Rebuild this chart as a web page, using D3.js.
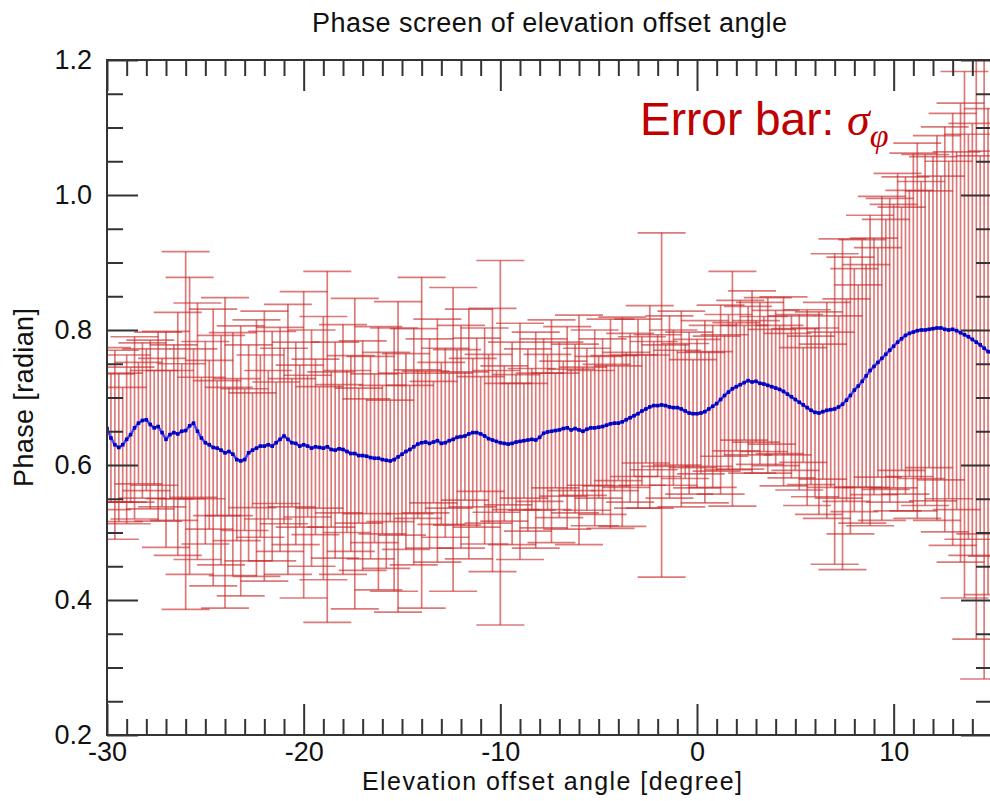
<!DOCTYPE html>
<html><head><meta charset="utf-8">
<script src="https://cdn.jsdelivr.net/npm/d3@7/dist/d3.min.js"></script>
<style>body{margin:0;background:#fff}svg{display:block}</style>
</head><body>
<svg id="chart" width="990" height="801"></svg>
<script>
// Elevation offset angle [degree]
const angles = [
-30.0,-29.8,-29.6,-29.4,-29.2,-29.0,-28.8,-28.6,-28.4,-28.2,
-28.0,-27.8,-27.6,-27.4,-27.2,-27.0,-26.8,-26.6,-26.4,-26.2,
-26.0,-25.8,-25.6,-25.4,-25.2,-25.0,-24.8,-24.6,-24.4,-24.2,
-24.0,-23.8,-23.6,-23.4,-23.2,-23.0,-22.8,-22.6,-22.4,-22.2,
-22.0,-21.8,-21.6,-21.4,-21.2,-21.0,-20.8,-20.6,-20.4,-20.2,
-20.0,-19.8,-19.6,-19.4,-19.2,-19.0,-18.8,-18.6,-18.4,-18.2,
-18.0,-17.8,-17.6,-17.4,-17.2,-17.0,-16.8,-16.6,-16.4,-16.2,
-16.0,-15.8,-15.6,-15.4,-15.2,-15.0,-14.8,-14.6,-14.4,-14.2,
-14.0,-13.8,-13.6,-13.4,-13.2,-13.0,-12.8,-12.6,-12.4,-12.2,
-12.0,-11.8,-11.6,-11.4,-11.2,-11.0,-10.8,-10.6,-10.4,-10.2,
-10.0,-9.8,-9.6,-9.4,-9.2,-9.0,-8.8,-8.6,-8.4,-8.2,
-8.0,-7.8,-7.6,-7.4,-7.2,-7.0,-6.8,-6.6,-6.4,-6.2,
-6.0,-5.8,-5.6,-5.4,-5.2,-5.0,-4.8,-4.6,-4.4,-4.2,
-4.0,-3.8,-3.6,-3.4,-3.2,-3.0,-2.8,-2.6,-2.4,-2.2,
-2.0,-1.8,-1.6,-1.4,-1.2,-1.0,-0.8,-0.6,-0.4,-0.2,
0.0,0.2,0.4,0.6,0.8,1.0,1.2,1.4,1.6,1.8,
2.0,2.2,2.4,2.6,2.8,3.0,3.2,3.4,3.6,3.8,
4.0,4.2,4.4,4.6,4.8,5.0,5.2,5.4,5.6,5.8,
6.0,6.2,6.4,6.6,6.8,7.0,7.2,7.4,7.6,7.8,
8.0,8.2,8.4,8.6,8.8,9.0,9.2,9.4,9.6,9.8,
10.0,10.2,10.4,10.6,10.8,11.0,11.2,11.4,11.6,11.8,
12.0,12.2,12.4,12.6,12.8,13.0,13.2,13.4,13.6,13.8,
14.0,14.2,14.4,14.6,14.8,15.0
];
// Mean phase [radian]
const phase = [
0.654,0.640,0.630,0.626,0.630,0.638,0.645,0.655,0.662,0.666,
0.667,0.660,0.655,0.657,0.648,0.638,0.645,0.648,0.646,0.650,
0.651,0.658,0.662,0.650,0.640,0.633,0.630,0.626,0.625,0.622,
0.618,0.620,0.616,0.608,0.606,0.608,0.618,0.622,0.625,0.628,
0.628,0.630,0.628,0.633,0.638,0.643,0.638,0.633,0.632,0.628,
0.630,0.628,0.625,0.627,0.626,0.625,0.627,0.623,0.622,0.624,
0.623,0.620,0.617,0.617,0.614,0.614,0.613,0.611,0.610,0.610,
0.608,0.607,0.606,0.608,0.612,0.616,0.620,0.623,0.627,0.631,
0.633,0.634,0.632,0.634,0.636,0.632,0.633,0.636,0.638,0.641,
0.642,0.643,0.646,0.648,0.648,0.646,0.643,0.639,0.637,0.635,
0.633,0.632,0.631,0.632,0.634,0.635,0.636,0.637,0.638,0.637,
0.641,0.647,0.649,0.650,0.651,0.652,0.654,0.655,0.652,0.654,
0.652,0.650,0.653,0.655,0.655,0.656,0.657,0.659,0.661,0.662,
0.662,0.664,0.667,0.670,0.673,0.676,0.680,0.683,0.686,0.688,
0.688,0.689,0.688,0.686,0.685,0.685,0.683,0.680,0.677,0.676,
0.676,0.677,0.679,0.683,0.687,0.691,0.697,0.703,0.708,0.713,
0.716,0.719,0.722,0.725,0.723,0.724,0.721,0.720,0.718,0.716,
0.714,0.712,0.709,0.705,0.701,0.697,0.693,0.689,0.685,0.681,
0.678,0.677,0.679,0.681,0.682,0.683,0.686,0.690,0.696,0.703,
0.711,0.717,0.724,0.732,0.740,0.746,0.752,0.758,0.764,0.770,
0.776,0.782,0.787,0.792,0.795,0.797,0.799,0.800,0.800,0.801,
0.802,0.803,0.803,0.801,0.800,0.801,0.799,0.796,0.793,0.790,
0.786,0.782,0.778,0.773,0.768,0.765
];
// Error bar sigma_phi [radian]
const sigma = [
0.120,0.095,0.140,0.110,0.085,0.125,0.100,0.135,0.090,0.115,
0.105,0.125,0.085,0.140,0.110,0.160,0.095,0.130,0.180,0.100,
0.265,0.220,0.110,0.190,0.090,0.150,0.125,0.205,0.100,0.170,
0.230,0.095,0.180,0.120,0.200,0.105,0.160,0.085,0.190,0.135,
0.200,0.110,0.170,0.090,0.166,0.130,0.200,0.095,0.150,0.120,
0.227,0.105,0.175,0.130,0.090,0.195,0.260,0.115,0.160,0.095,
0.185,0.120,0.145,0.230,0.100,0.170,0.085,0.150,0.125,0.195,
0.110,0.160,0.090,0.195,0.230,0.120,0.145,0.095,0.175,0.110,
0.245,0.105,0.155,0.090,0.180,0.120,0.140,0.100,0.225,0.130,
0.165,0.095,0.185,0.110,0.140,0.085,0.160,0.125,0.195,0.105,
0.270,0.115,0.090,0.150,0.100,0.175,0.085,0.135,0.105,0.160,
0.095,0.140,0.115,0.165,0.085,0.130,0.100,0.150,0.090,0.125,
0.170,0.095,0.120,0.085,0.145,0.105,0.130,0.090,0.155,0.100,
0.085,0.155,0.100,0.125,0.090,0.140,0.110,0.080,0.150,0.095,
0.105,0.255,0.090,0.135,0.115,0.085,0.145,0.100,0.120,0.080,
0.110,0.090,0.135,0.085,0.120,0.100,0.140,0.090,0.115,0.174,
0.095,0.125,0.085,0.110,0.135,0.090,0.120,0.100,0.130,0.085,
0.115,0.095,0.140,0.090,0.120,0.105,0.130,0.085,0.145,0.110,
0.125,0.150,0.100,0.160,0.115,0.230,0.135,0.245,0.150,0.205,
0.180,0.150,0.210,0.165,0.230,0.190,0.170,0.240,0.200,0.225,
0.210,0.250,0.195,0.235,0.212,0.265,0.278,0.220,0.260,0.205,
0.255,0.285,0.225,0.300,0.250,0.320,0.265,0.340,0.390,0.300,
0.320,0.440,0.280,0.490,0.360,0.300
];
const xMajorTicks = [-30, -20, -10, 0, 10];
const xMinorTicks = [-29,-28,-27,-26,-25,-24,-23,-22,-21,-19,-18,-17,-16,-15,-14,-13,-12,-11,-9,-8,-7,-6,-5,-4,-3,-2,-1,1,2,3,4,5,6,7,8,9,11,12,13,14];
const yMajorTicks = [0.2, 0.4, 0.6, 0.8, 1.0, 1.2];
const yMinorTicks = [0.25,0.3,0.35,0.45,0.5,0.55,0.65,0.7,0.75,0.85,0.9,0.95,1.05,1.1,1.15];
const titleText = "Phase screen of elevation offset angle";
const xTitle = "Elevation offset angle [degree]";
const yTitle = "Phase [radian]";

const data = angles.map((a, i) => ({x: a, y: phase[i], s: sigma[i]}));

const svg = d3.select("#chart");
const L = 107, R = 992, T = 60, B = 735;
const x = d3.scaleLinear().domain([-30, 15]).range([L, R]);
const y = d3.scaleLinear().domain([0.2, 1.2]).range([B, T]);
const font = "'Liberation Sans', Arial, Helvetica, sans-serif";

svg.append("defs").append("clipPath").attr("id", "plotclip")
  .append("rect").attr("x", L).attr("y", T).attr("width", R - L).attr("height", B - T);

// Error bars
const eb = svg.append("g").attr("clip-path", "url(#plotclip)")
  .attr("stroke", "rgb(198,40,40)").attr("stroke-opacity", 0.62).attr("stroke-width", 1.7).attr("fill", "none");
const capHalf = 24;
eb.selectAll("line.v").data(data).join("line").attr("class", "v")
  .attr("x1", d => x(d.x)).attr("x2", d => x(d.x))
  .attr("y1", d => y(d.y + d.s)).attr("y2", d => y(d.y - d.s));
eb.selectAll("line.t").data(data).join("line").attr("class", "t")
  .attr("x1", d => x(d.x) - capHalf).attr("x2", d => x(d.x) + capHalf)
  .attr("y1", d => y(d.y + d.s)).attr("y2", d => y(d.y + d.s));
eb.selectAll("line.b").data(data).join("line").attr("class", "b")
  .attr("x1", d => x(d.x) - capHalf).attr("x2", d => x(d.x) + capHalf)
  .attr("y1", d => y(d.y - d.s)).attr("y2", d => y(d.y - d.s));

// Mean line
const ml = svg.append("g").attr("clip-path", "url(#plotclip)");
ml.append("path").datum(data)
  .attr("d", d3.line().x(d => x(d.x)).y(d => y(d.y)))
  .attr("fill", "none").attr("stroke", "#4a4aff").attr("stroke-width", 2.6);
ml.selectAll("rect").data(data).join("rect")
  .attr("x", d => x(d.x) - 1.8).attr("y", d => y(d.y) - 1.8)
  .attr("width", 3.6).attr("height", 3.6).attr("fill", "#0000c0");

// Axes
const axColor = "#333";
function styleAxis(g) {
  g.selectAll(".domain").remove();
  g.selectAll(".tick line").attr("stroke", axColor).attr("stroke-width", 2);
  g.selectAll(".tick text").attr("fill", "#111").style("font-family", font).style("font-size", "27px");
}
const fmtX = d => String(d);
const fmtY = d => d.toFixed(1);
// bottom
svg.append("g").attr("transform", `translate(0,${B})`)
  .call(d3.axisBottom(x).tickValues(xMinorTicks).tickSize(-16).tickFormat(""))
  .call(styleAxis);
svg.append("g").attr("transform", `translate(0,${B})`)
  .call(d3.axisBottom(x).tickValues(xMajorTicks).tickSize(-31).tickPadding(7).tickFormat(fmtX))
  .call(styleAxis);
// top
svg.append("g").attr("transform", `translate(0,${T})`)
  .call(d3.axisTop(x).tickValues(xMinorTicks).tickSize(-16).tickFormat(""))
  .call(styleAxis);
svg.append("g").attr("transform", `translate(0,${T})`)
  .call(d3.axisTop(x).tickValues(xMajorTicks).tickSize(-31).tickFormat(""))
  .call(styleAxis);
// left
svg.append("g").attr("transform", `translate(${L},0)`)
  .call(d3.axisLeft(y).tickValues(yMinorTicks).tickSize(-16).tickFormat(""))
  .call(styleAxis);
svg.append("g").attr("transform", `translate(${L},0)`)
  .call(d3.axisLeft(y).tickValues(yMajorTicks).tickSize(-31).tickPadding(15).tickFormat(fmtY))
  .call(styleAxis);
// right
svg.append("g").attr("transform", `translate(${R},0)`)
  .call(d3.axisRight(y).tickValues(yMinorTicks).tickSize(-16).tickFormat(""))
  .call(styleAxis);
svg.append("g").attr("transform", `translate(${R},0)`)
  .call(d3.axisRight(y).tickValues(yMajorTicks).tickSize(-31).tickFormat(""))
  .call(styleAxis);

// frame
svg.append("rect").attr("x", L).attr("y", T).attr("width", R - L).attr("height", B - T)
  .attr("fill", "none").attr("stroke", axColor).attr("stroke-width", 2);

// Titles
svg.append("text").attr("x", (L + R) / 2).attr("y", 32).attr("text-anchor", "middle")
  .attr("textLength", 475).attr("lengthAdjust", "spacing")
  .style("font-family", font).style("font-size", "27px").attr("fill", "#111").text(titleText);
svg.append("text").attr("x", 552).attr("y", 790).attr("text-anchor", "middle")
  .attr("textLength", 380).attr("lengthAdjust", "spacing")
  .style("font-family", font).style("font-size", "25px").attr("fill", "#111").text(xTitle);
svg.append("text").attr("transform", "translate(33,397.5) rotate(-90)").attr("text-anchor", "middle")
  .attr("textLength", 179).attr("lengthAdjust", "spacing")
  .style("font-family", font).style("font-size", "27px").attr("fill", "#111").text(yTitle);

// Annotation
const ann = svg.append("text").attr("x", 640).attr("y", 135).attr("fill", "#c00000")
  .style("font-family", font).style("font-size", "46px");
ann.append("tspan").text("Error bar: ");
ann.append("tspan").style("font-family", "'Liberation Serif', 'DejaVu Serif', serif").style("font-style", "italic").text("σ");
ann.append("tspan").attr("dy", 12).style("font-family", "'Liberation Serif', 'DejaVu Serif', serif").style("font-style", "italic").style("font-size", "34px").text("φ");
</script>
</body></html>
